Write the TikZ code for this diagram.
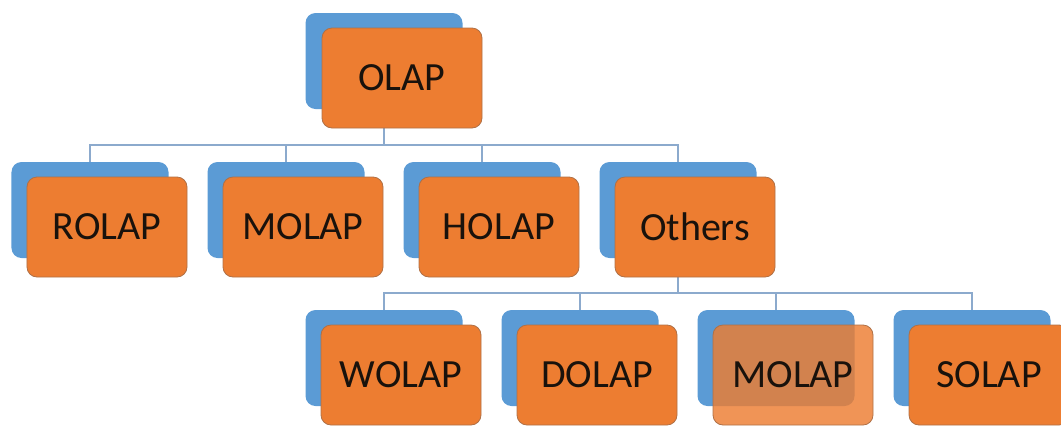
\documentclass[tikz,border=0pt]{standalone}
\usepackage{fontspec}
\setmainfont{Carlito}
\usetikzlibrary{backgrounds}
\definecolor{boxblue}{RGB}{91,155,213}
\definecolor{boxorange}{RGB}{237,125,49}
\definecolor{boxedge}{RGB}{175,112,70}
\definecolor{linkblue}{RGB}{140,170,205}
\definecolor{labelink}{RGB}{25,18,12}
\tikzset{
  backbox/.style={fill=boxblue,rounded corners=10bp,minimum width=157bp,minimum height=96bp,inner sep=0pt},
  frontbox/.style={fill=boxorange,draw=boxedge,line width=0.8bp,rounded corners=10bp,minimum width=160bp,minimum height=100bp,inner sep=0pt,text=labelink,font=\fontsize{40bp}{48bp}\selectfont},
  link/.style={draw=linkblue,line width=1.5bp}
}
\begin{document}
\begin{tikzpicture}[x=1bp,y=-1bp]
\useasboundingbox (0,0) rectangle (1061,425);

% Root
\node[backbox] (olapB) at (384,61) {};
\node[frontbox] (olap) at (402,78) {OLAP};
\coordinate (busA) at (384,145);

% First level
\foreach \name/\txt [count=\i] in {rolap/ROLAP,molap/MOLAP,holap/HOLAP,others/Others} {
    \node[backbox] (\name B) at ({90+196*(\i-1)},210) {};
    \node[frontbox] (\name) at ({107+196*(\i-1)},227) {\txt};
}
\coordinate (busB) at (678,293);

% Second level
\foreach \name/\txt [count=\i] in {wolap/WOLAP,dolap/DOLAP,molapb/MOLAP,solap/SOLAP} {
    \node[backbox] (\name B) at ({384+196*(\i-1)},358) {};
    \ifnum\i=3
        \node[frontbox,fill opacity=0.82,text opacity=1] (\name) at ({401+196*(\i-1)},375) {\txt};
    \else
        \node[frontbox] (\name) at ({401+196*(\i-1)},375) {\txt};
    \fi
}

% Connectors
\begin{scope}[on background layer]
\draw[link] (olapB.center) -- (busA);
\foreach \name in {rolap,molap,holap,others}
    \draw[link] (busA) -| (\name B.center);
\draw[link] (othersB.center) -- (busB);
\foreach \name in {wolap,dolap,molapb,solap}
    \draw[link] (busB) -| (\name B.center);
\end{scope}
\end{tikzpicture}
\end{document}
